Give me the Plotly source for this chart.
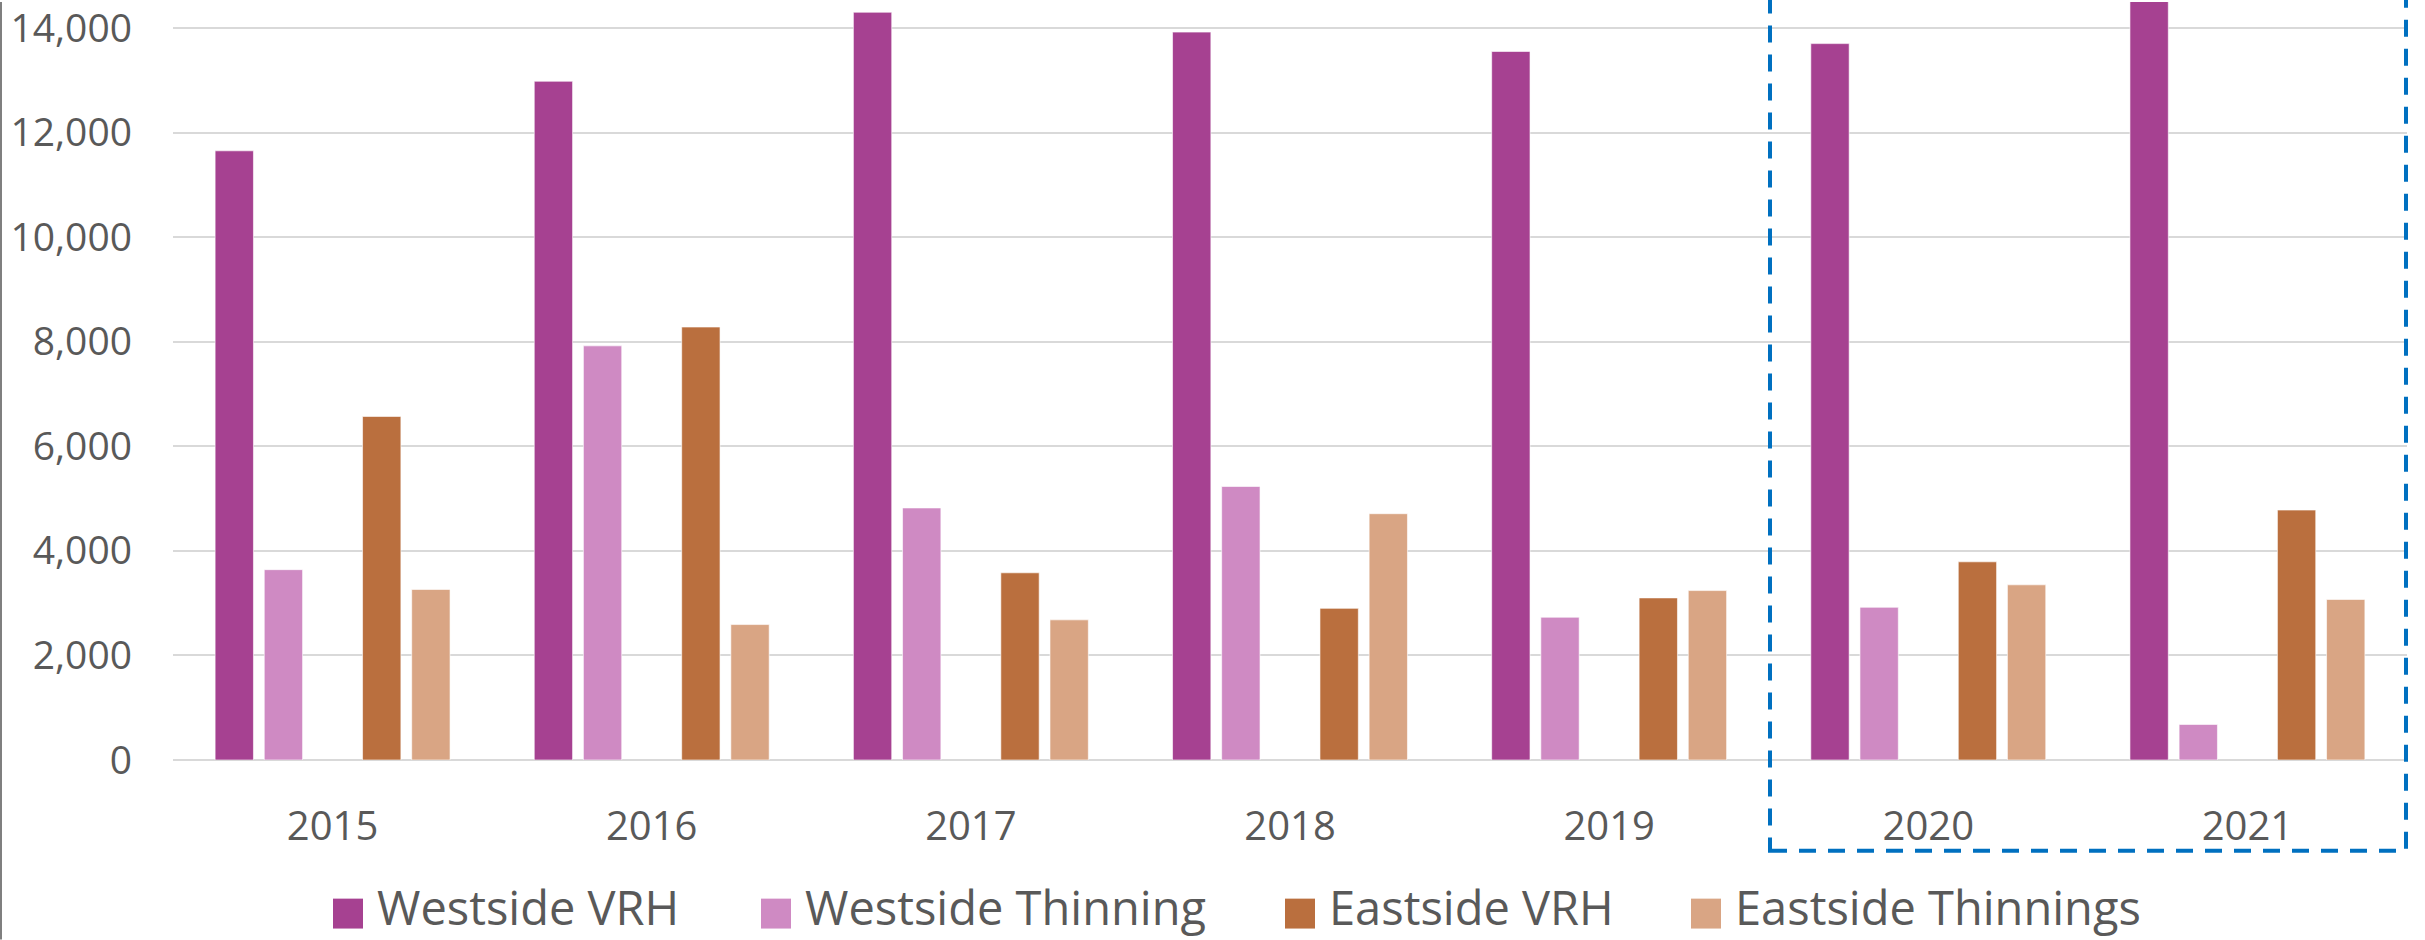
import plotly.graph_objects as go

# ---- data ----
years = ["2015", "2016", "2017", "2018", "2019", "2020", "2021"]
series_names = ["Westside VRH", "Westside Thinning", "Eastside VRH", "Eastside Thinnings"]
westside_vrh = [11650, 12980, 14300, 13920, 13550, 13700, 15200]
westside_thinning = [3640, 7920, 4820, 5230, 2730, 2920, 680]
eastside_vrh = [6570, 8280, 3580, 2900, 3100, 3790, 4780]
eastside_thinnings = [3260, 2590, 2680, 4710, 3240, 3350, 3070]
y_ticks = [0, 2000, 4000, 6000, 8000, 10000, 12000, 14000]

colors = ["#A64191", "#CF8AC3", "#BA6F3E", "#D9A584"]

# ---- layout geometry (pixels) ----
FW, FH = 2425, 940
ML, MR, MT, MB = 173, 18, 0, 180
PW, PH = FW - ML - MR, FH - MT - MB
FONT = "Open Sans"
TXT = "#595959"


def px_x(px):
    return (px - ML) / PW


def px_y(py):
    return (FH - MB - py) / PH


fig = go.Figure()
values = [westside_vrh, westside_thinning, None, eastside_vrh, eastside_thinnings]
ci = 0
for k, vals in enumerate(values):
    if vals is None:
        # blank slot (empty series) between Westside and Eastside groups
        fig.add_trace(go.Bar(x=years, y=[None] * len(years), showlegend=False,
                             hoverinfo="skip", marker_color="rgba(0,0,0,0)"))
        continue
    fig.add_trace(go.Bar(
        x=years, y=vals, name=series_names[ci],
        marker=dict(color=colors[ci], line=dict(color="rgba(255,255,255,0.6)", width=1)),
        showlegend=False,
    ))
    ci += 1

shapes = []
annotations = []

# left grey border line
shapes.append(dict(type="line", xref="paper", yref="paper",
                   x0=px_x(1), x1=px_x(1), y0=px_y(0), y1=px_y(FH),
                   line=dict(color="#7F7F7F", width=2)))

# dashed highlight box around 2020-2021
shapes.append(dict(type="rect", xref="paper", yref="paper",
                   x0=px_x(1770), x1=px_x(2406), y0=px_y(851), y1=px_y(-30),
                   line=dict(color="#0070C0", width=4, dash="17px,12px"),
                   fillcolor="rgba(0,0,0,0)", layer="above"))

# manual legend (large square keys like the original)
legend_sq_x = [333, 761, 1285, 1691]
for name, col, sx in zip(series_names, colors, legend_sq_x):
    shapes.append(dict(type="rect", xref="paper", yref="paper",
                       x0=px_x(sx), x1=px_x(sx + 30), y0=px_y(929), y1=px_y(899),
                       fillcolor=col, line=dict(width=0)))
    annotations.append(dict(xref="paper", yref="paper", x=px_x(sx + 43), y=px_y(FH),
                            xanchor="left", yanchor="bottom", showarrow=False,
                            borderpad=0,
                            text=name, font=dict(family=FONT, size=47, color=TXT)))

fig.update_layout(
    width=FW, height=FH,
    margin=dict(l=ML, r=MR, t=MT, b=MB, pad=0),
    paper_bgcolor="white", plot_bgcolor="white",
    barmode="group", bargap=0.23, bargroupgap=0.22,
    showlegend=False,
    shapes=shapes, annotations=annotations,
    font=dict(family=FONT, color=TXT),
)
fig.update_xaxes(showgrid=False, showline=False, ticks="",
                 tickfont=dict(family=FONT, size=40, color=TXT),
                 ticklabelstandoff=39)
fig.update_yaxes(range=[0, 14496], tickvals=y_ticks, tickformat=",d",
                 showgrid=True, gridcolor="#D9D9D9", gridwidth=2,
                 zeroline=True, zerolinecolor="#D9D9D9", zerolinewidth=2,
                 showline=False, ticks="", ticklabeloverflow="allow",
                 tickfont=dict(family=FONT, size=39, color=TXT),
                 ticklabelstandoff=40)

fig.write_html("out.html", config={"displayModeBar": False},
               post_script="document.body.style.margin='0';document.body.style.overflow='hidden';")
